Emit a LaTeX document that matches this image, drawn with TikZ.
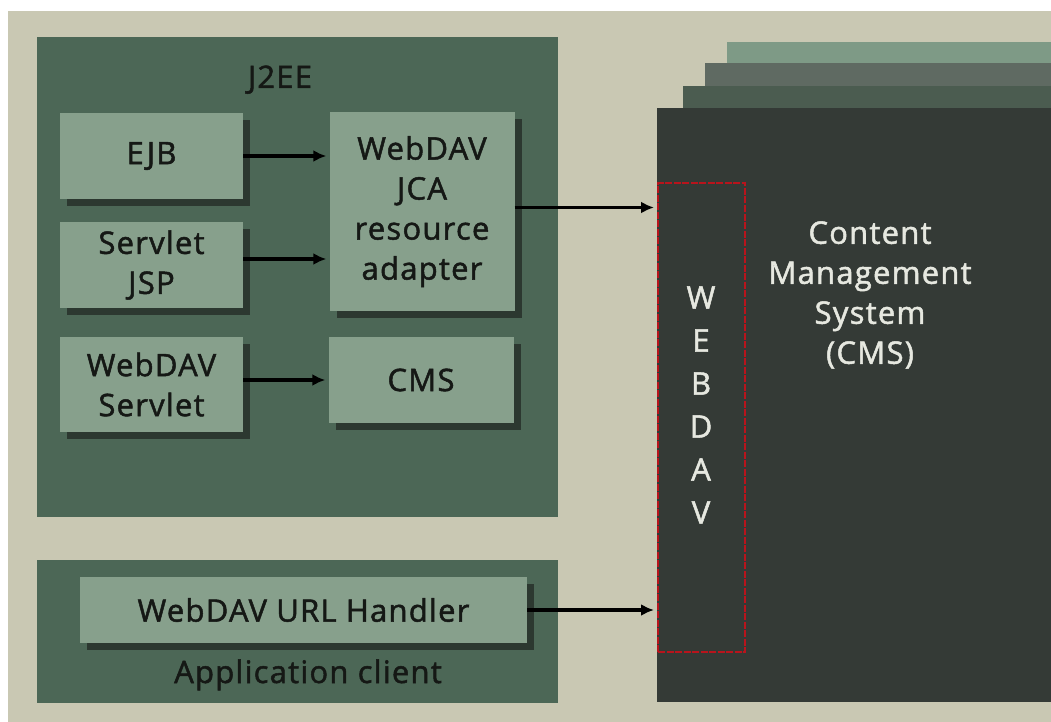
\documentclass[tikz,border=0pt]{standalone}
\usepackage{fontspec}
\setmainfont{Open Sans}[FakeBold=1.6,LetterSpace=4]
\usetikzlibrary{arrows.meta,shadows}

\definecolor{paper}{HTML}{C9C8B3}
\definecolor{panelgreen}{HTML}{4C6756}
\definecolor{boxgreen}{HTML}{87A08C}
\definecolor{shadowgreen}{HTML}{2C3830}
\definecolor{cmsfront}{HTML}{343A36}
\definecolor{cmslayera}{HTML}{4B5C50}
\definecolor{cmslayerb}{HTML}{5F6A62}
\definecolor{cmslayerc}{HTML}{7E9A86}
\definecolor{davred}{HTML}{B8141C}
\definecolor{lighttext}{HTML}{E6E8E0}
\definecolor{darktext}{HTML}{151815}

\begin{document}
\begin{tikzpicture}[x=1pt,y=-1pt,
    panel/.style={fill=panelgreen, inner sep=0pt},
    comp/.style={fill=boxgreen, inner sep=0pt, align=center, text=darktext,
                 font=\fontsize{31}{40}\selectfont,
                 drop shadow={shadow xshift=7pt, shadow yshift=-7pt, fill=shadowgreen, opacity=1}},
    lbl/.style={text=darktext, font=\fontsize{31}{40}\selectfont},
    arr/.style={-{Latex[length=13pt,width=12pt]}, line width=3.2pt, shorten >=3pt}]

        \useasboundingbox (0,0) rectangle (1051,722);
        \fill[white] (0,0) rectangle (1051,722);
        \fill[paper] (8,11) rectangle (1051,722);

        % Panels
        \node[panel, minimum width=521, minimum height=480] (j2ee) at (297.5,277) {};
        \node[lbl, anchor=base] (j2eelbl) at (280,88) {J2EE};
        \node[panel, minimum width=521, minimum height=143] (appclient) at (297.5,631.5) {};
        \node[lbl, anchor=base] (appclientlbl) at (308,683) {Application client};

        % Nodes for J2EE
        \node[comp, minimum width=183, minimum height=86] (ejb) at (151.5,156) {EJB};
        \node[comp, minimum width=183, minimum height=86] (servlet) at (151.5,265) {Servlet\\JSP};
        \node[comp, minimum width=183, minimum height=95] (wdservlet) at (151.5,384.5) {WebDAV\\Servlet};
        \node[comp, minimum width=185, minimum height=199] (jca) at (422,211.5) {WebDAV\\JCA\\resource\\adapter};
        \node[comp, minimum width=185, minimum height=86] (cmsbox) at (421,380) {CMS};

        % Node for the client
        \node[comp, minimum width=447, minimum height=66] (urlhandler) at (303.5,610) {WebDAV URL Handler};

        % CMS stack
        \fill[cmslayerc] (727,42) rectangle (1051,702);
        \fill[cmslayerb] (705,63) rectangle (1051,702);
        \fill[cmslayera] (683,86) rectangle (1051,702);
        \node[fill=cmsfront, inner sep=0pt, minimum width=394, minimum height=594] (cms) at (854,405) {};
        \node[text=lighttext, align=center, font=\fontsize{31}{40}\selectfont] (cmslbl) at (870,295) {Content\\Management\\System\\(CMS)};
        \node[draw=davred, dash pattern=on 7pt off 1.5pt, line width=2pt, inner sep=0pt, minimum width=87, minimum height=469] (webdav) at (701.5,417.5) {};
        \node[text=lighttext, align=center, font=\fontsize{31}{43}\selectfont] (webdavlbl) at (701,405) {W\\E\\B\\D\\A\\V};

        \draw[arr] (ejb.east) -- (ejb.east -| jca.west);
        \draw[arr] ([yshift=6pt]servlet.east) -- ([yshift=6pt]servlet.east -| jca.west);
        \draw[arr] (wdservlet.east |- cmsbox.west) -- (cmsbox.west);

        % Calls into WebDAV
        \draw[arr] ([yshift=4pt]jca.east) -- ([yshift=4pt]jca.east -| webdav.west);
        \draw[arr] (urlhandler.east) -- (urlhandler.east -| webdav.west);

\end{tikzpicture}
\end{document}
